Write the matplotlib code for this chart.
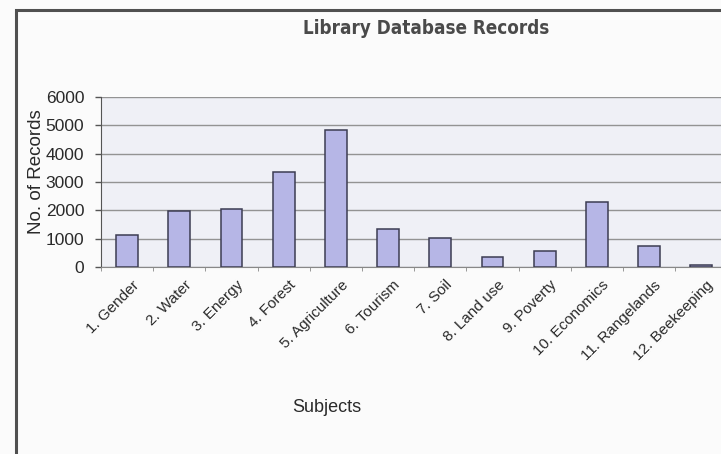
import matplotlib
matplotlib.use("Agg")
import matplotlib.pyplot as plt
from matplotlib.patches import Rectangle
from matplotlib.transforms import ScaledTranslation

# Records held per subject
subjects = ["1. Gender", "2. Water", "3. Energy", "4. Forest", "5. Agriculture",
            "6. Tourism", "7. Soil", "8. Land use", "9. Poverty", "10. Economics",
            "11. Rangelands", "12. Beekeeping"]
records = [1130, 1960, 2030, 3360, 4820, 1340, 1020, 340, 570, 2300, 750, 80]
y_ticks = [0, 1000, 2000, 3000, 4000, 5000, 6000]

W, H = 721, 454
fig = plt.figure(figsize=(W / 100, H / 100), dpi=100)
fig.patch.set_facecolor("#fbfbfb")
plt.rcParams["font.family"] = ["Liberation Sans", "DejaVu Sans"]

# outer chart frame (runs off the right and bottom edges)
fig.patches.append(Rectangle((16 / W, -0.05), 1.1, (H - 10) / H + 0.05,
                             transform=fig.transFigure, fill=False,
                             edgecolor="#505050", linewidth=2.2, zorder=0))

ax = fig.add_axes([101 / W, 187 / H, 626.4 / W, 170 / H])
ax.set_facecolor("#eff0f6")

x = list(range(len(subjects)))
ax.bar(x, records, width=0.42, color="#b6b6e6", edgecolor="#3c3c52",
       linewidth=1.1, zorder=3)

ax.set_xlim(-0.5, len(subjects) - 0.5)
ax.set_ylim(0, 6000)
ax.set_yticks(y_ticks)
ax.set_yticklabels([str(v) for v in y_ticks], fontsize=12.5, color="#2a2a2a")
ax.yaxis.grid(True, color="#939393", linewidth=1.0, zorder=1)
ax.set_axisbelow(True)

# category labels, tilted, with their ends just right of each bar
ax.set_xticks(x)
ax.set_xticklabels([])
ax.tick_params(axis="x", length=0)
label_shift = ScaledTranslation(5 / 100, -11 / 100, fig.dpi_scale_trans)
for i, name in zip(x, subjects):
    ax.text(i, 0, name, rotation=45, ha="right", va="top",
            rotation_mode="anchor", fontsize=11, color="#2a2a2a",
            transform=ax.get_xaxis_transform() + label_shift, clip_on=False)
ax.tick_params(axis="y", length=4, width=1, color="#555555", pad=8)

# small boundary ticks between categories
ax.set_xticks([i + 0.5 for i in range(-1, len(subjects))], minor=True)
ax.tick_params(axis="x", which="minor", length=3, color="#888888")

for side in ["top", "right"]:
    ax.spines[side].set_visible(False)
ax.spines["left"].set_color("#555555")
ax.spines["bottom"].set_color("#888888")

ax.set_ylabel("No. of Records", fontsize=13.5, color="#2a2a2a")
ax.yaxis.set_label_coords(-0.09, 0.56)

fig.text(327 / W, 1 - 408 / H, "Subjects", ha="center", va="center",
         fontsize=13, color="#2a2a2a")

fig.text(426 / W, 1 - 28 / H, "Library Database Records", ha="center",
         va="center", fontsize=13.5, fontweight="heavy", fontstretch="condensed",
         color="#4a4a4a", family=["DejaVu Sans"])

fig.savefig("out.png", dpi=100, facecolor=fig.get_facecolor())
